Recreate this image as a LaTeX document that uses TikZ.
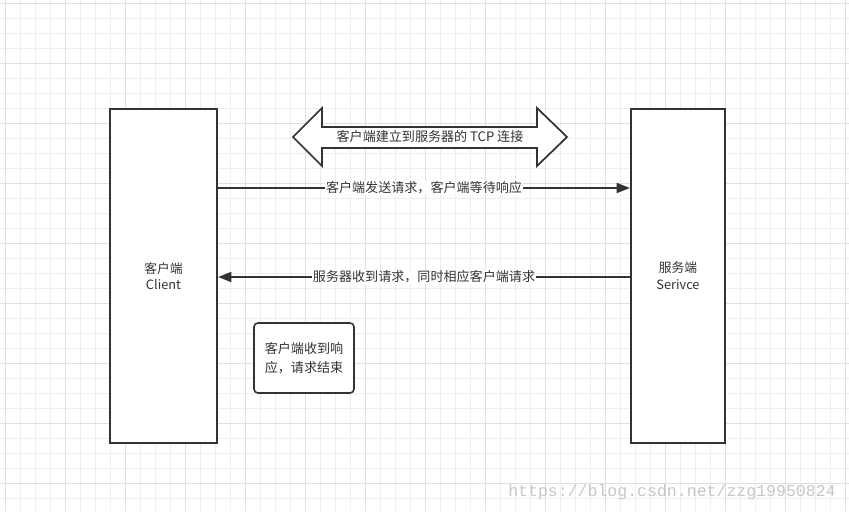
\documentclass[tikz,border=0pt]{standalone}
\usepackage{fontspec}
\setmainfont{Noto Sans CJK SC}
\newfontfamily\wmfont{Liberation Mono}
\usetikzlibrary{arrows.meta,calc}
\definecolor{ink}{HTML}{333333}
\definecolor{gridminor}{HTML}{EEEEEE}
\definecolor{gridmajor}{HTML}{E0E0E0}
\tikzset{
  box/.style={draw=ink, line width=1.6pt, fill=white, minimum width=107*0.75pt, minimum height=334*0.75pt, inner sep=0pt, align=center, font=\fontsize{9.6}{12.5}\selectfont, text=ink},
  conn/.style={draw=ink, line width=1.5pt, -{Triangle[length=10pt,width=7.5pt]}},
  clabel/.style={fill=white, inner sep=0.6pt, font=\fontsize{9.8}{11}\selectfont, text=ink},
}
\begin{document}
\begin{tikzpicture}[x=0.75pt,y=-0.75pt]
\useasboundingbox (0,0) rectangle (849,511);
\fill[white] (0,0) rectangle (849,511);
% grid
\foreach \i in {0,...,57} { \draw[gridminor, line width=0.75pt] ({5+15*\i},0) -- ({5+15*\i},511); }
\foreach \j in {0,...,34} { \draw[gridminor, line width=0.75pt] (0,{3+15*\j}) -- (849,{3+15*\j}); }
\foreach \i in {0,...,14} { \draw[gridmajor, line width=0.75pt] ({5+60*\i},0) -- ({5+60*\i},511); }
\foreach \j in {0,...,8} { \draw[gridmajor, line width=0.75pt] (0,{3+60*\j}) -- (849,{3+60*\j}); }
% nodes
\node[box] (client) at (163.5,276) {客户端\\Client};
\node[box, minimum width=94*0.75pt] (server) at (678,276) {服务端\\Serivce};
\node[draw=ink, line width=1.2pt, fill=white, rounded corners=3pt, minimum width=100*0.75pt, minimum height=70*0.75pt, align=center, font=\fontsize{9.8}{14}\selectfont, text=ink] (done) at (304,358) {客户端收到响\\应，请求结束};
% TCP double arrow
\draw[ink, line width=1.3pt, fill=white, line join=miter]
  (293,137) -- (322,108) -- (322,127) -- (537,127) -- (537,108) -- (567,137)
  -- (537,166) -- (537,148) -- (322,148) -- (322,166) -- cycle;
\node[font=\fontsize{9.8}{11}\selectfont, text=ink] (tcp) at (430,137) {客户端建立到服务器的 TCP 连接};
% connectors
\draw[conn] ($(client.east)+(0,-88)$) -- node[clabel] {客户端发送请求，客户端等待响应} ($(server.west)+(0,-88)$);
\draw[conn] ($(server.west)+(0,1)$) -- node[clabel] {服务器收到请求，同时相应客户端请求} ($(client.east)+(0,1)$);
% watermark
\node[anchor=west, text=black!22, font=\wmfont\fontsize{12.4}{14}\selectfont, inner sep=0pt] (wm) at (508,492) {https://blog.csdn.net/zzg19950824};
\end{tikzpicture}
\end{document}
